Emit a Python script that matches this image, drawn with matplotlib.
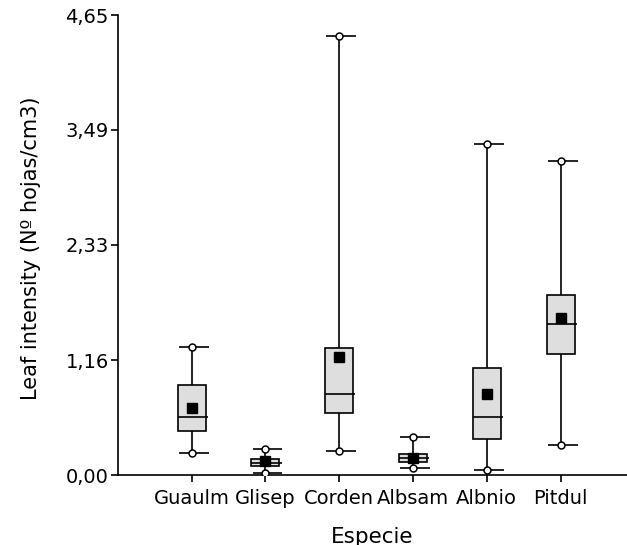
import matplotlib.pyplot as plt
from matplotlib.patches import Rectangle

plt.rcParams['font.family'] = ['DejaVu Sans']

# --- datos ---
especies = ['Guaulm', 'Glisep', 'Corden', 'Albsam', 'Albnio', 'Pitdul']
whisk_lo = [0.22, 0.02, 0.24, 0.07, 0.05, 0.30]
q1       = [0.445, 0.094, 0.63, 0.13, 0.36, 1.22]
mediana  = [0.59, 0.125, 0.82, 0.17, 0.59, 1.53]
q3       = [0.91, 0.16, 1.28, 0.21, 1.085, 1.82]
whisk_hi = [1.29, 0.26, 4.44, 0.38, 3.35, 3.17]
media    = [0.68, 0.14, 1.19, 0.175, 0.82, 1.59]
yticks = [0.00, 1.16, 2.33, 3.49, 4.65]
ytick_labels = ['0,00', '1,16', '2,33', '3,49', '4,65']

fig = plt.figure(figsize=(6.27, 5.45), dpi=100)
ax = fig.add_axes([0.188, 0.1284, 0.812, 0.844])

box_fill = '#dedede'
lw = 1.2
half = 0.19          # half box width
cap_l, cap_r = -0.175, 0.23   # caps are a bit longer to the right

for i, sp in enumerate(especies):
    x = i + 1
    # whiskers
    ax.vlines(x, whisk_lo[i], q1[i], color='black', lw=lw, zorder=2)
    ax.vlines(x, q3[i], whisk_hi[i], color='black', lw=lw, zorder=2)
    # caps
    for w in (whisk_lo[i], whisk_hi[i]):
        ax.hlines(w, x + cap_l, x + cap_r, color='black', lw=lw, zorder=2)
    # box
    ax.add_patch(Rectangle((x - half, q1[i]), 2 * half, q3[i] - q1[i],
                           facecolor=box_fill, edgecolor='black', lw=lw, zorder=3))
    # median
    ax.hlines(mediana[i], x - half, x + half + 0.03, color='black', lw=lw, zorder=4)

x_pos = list(range(1, len(especies) + 1))
# whisker end circles
ax.plot(x_pos, whisk_lo, 'o', ms=5, mfc='white', mec='black', mew=1.1, zorder=5)
ax.plot(x_pos, whisk_hi, 'o', ms=5, mfc='white', mec='black', mew=1.1, zorder=5)
# mean
ax.plot(x_pos, media, 's', ms=6.5, color='black', zorder=6)

ax.set_xlim(0, 6.9)
ax.set_ylim(0, 4.65)
ax.set_yticks(yticks)
ax.set_yticklabels(ytick_labels)
ax.set_xticks(x_pos)
ax.set_xticklabels(especies)

for s in ('top', 'right'):
    ax.spines[s].set_visible(False)
for s in ('left', 'bottom'):
    ax.spines[s].set_linewidth(1.2)
ax.tick_params(axis='both', direction='out', length=5, width=1.2, labelsize=14)
ax.tick_params(axis='x', pad=5)
ax.tick_params(axis='y', pad=1.5)

ax.set_xlabel('Especie', fontsize=15.5)
ax.xaxis.set_label_coords(0.5, -0.112)
fig.text(0.050, 0.545, 'Leaf intensity (Nº hojas/cm3)', rotation=90,
         ha='center', va='center', fontsize=15)

fig.savefig('out.png', dpi=100)
